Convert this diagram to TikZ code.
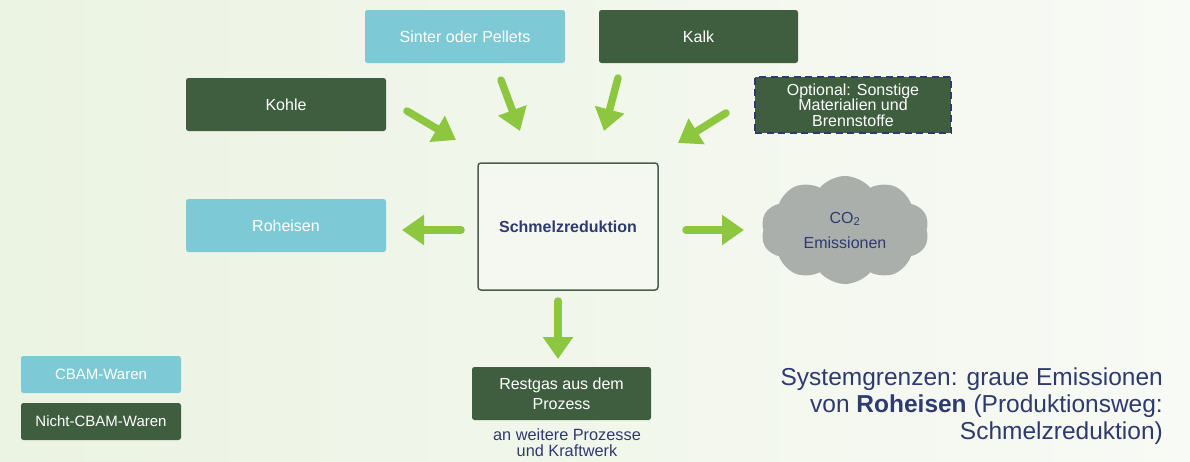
\documentclass[tikz,border=0pt]{standalone}
\usepackage{fontspec}
\setmainfont{Liberation Sans}
\usetikzlibrary{arrows.meta,shapes.symbols}
\definecolor{cb}{HTML}{7DCAD6}
\definecolor{dg}{HTML}{3F5E40}
\definecolor{ag}{HTML}{8DC63F}
\definecolor{tb}{HTML}{2F3A70}
\definecolor{bgl}{HTML}{EBF3E2}
\definecolor{bgr}{HTML}{F8FAF5}
\begin{document}
\begin{tikzpicture}[x=1pt,y=-1pt,
  box/.style={rounded corners=2.5pt, minimum width=200, minimum height=53, text=white,
    font=\fontsize{16}{18}\selectfont, align=center, inner sep=0},
  cbam/.style={box, fill=cb},
  ncbam/.style={box, fill=dg},
  arr/.style={draw=ag, line width=7.5pt, line cap=round, -{Triangle[length=22pt,width=29pt]}}
]
\useasboundingbox (0,0) rectangle (1190,461);
\fill[left color=bgl, right color=bgr] (0,0) rectangle (1190,461);

% nodes
\node[cbam] (sinter) at (465,36.5) {Sinter oder Pellets};
\node[ncbam, minimum width=199] (kalk) at (698.5,36.5) {Kalk};
\node[ncbam] (kohle) at (286,104.5) {Kohle};
\node[ncbam, minimum width=196, minimum height=56, draw=tb, line width=2.3pt,
  dash pattern=on 7pt off 4.5pt, rounded corners=0pt,
  font=\fontsize{16}{15.5}\selectfont] (opt) at (853,105) {Optional: Sonstige\\Materialien und\\Brennstoffe};
\node[draw={rgb,255:red,77;green,93;blue,77}, line width=1.5pt, rounded corners=3pt,
  fill={rgb,255:red,244;green,248;blue,240},
  minimum width=180, minimum height=127, text=tb,
  font=\bfseries\fontsize{16}{18}\selectfont] (schmelz) at (568,226.5) {Schmelzreduktion};
\node[cbam] (roheisen) at (286,225.5) {Roheisen};
\node[cloud, cloud puffs=10, cloud puff arc=100, aspect=1.55, fill={rgb,255:red,170;green,175;blue,172},
  minimum width=168, minimum height=108, inner sep=0, align=center, text=tb,
  font=\fontsize{16}{25}\selectfont] (co2) at (845,230) {CO\textsubscript{2}\\Emissionen};
\node[ncbam, minimum width=179, font=\fontsize{16}{20}\selectfont] (restgas) at (561.5,393.5) {Restgas aus dem\\Prozess};
\node[anchor=north, align=center, text=tb, inner sep=0,
  font=\fontsize{16.3}{16.5}\selectfont] (weiter) at (567,428) {an weitere Prozesse\\und Kraftwerk};

% legend
\node[cbam, minimum width=160, minimum height=37, font=\fontsize{15}{17}\selectfont] (leg1) at (101,374.5) {CBAM-Waren};
\node[ncbam, minimum width=160, minimum height=37, font=\fontsize{15}{17}\selectfont] (leg2) at (101,421.5) {Nicht-CBAM-Waren};

% system boundary text
\node[anchor=north east, align=right, text=tb, inner sep=0,
  font=\fontsize{24.5}{27}\selectfont] (sys) at (1163,368) {Systemgrenzen: graue Emissionen\\von \textbf{Roheisen} (Produktionsweg:\\Schmelzreduktion)};

% arrow coordinates
\coordinate (a1s) at (407,111); \coordinate (a1e) at (456,140);
\coordinate (a2s) at (501,80);  \coordinate (a2e) at (520,131);
\coordinate (a3s) at (618,78);  \coordinate (a3e) at (604,131);
\coordinate (a4s) at (726,113); \coordinate (a4e) at (678,143);
\coordinate (a5s) at (461,230); \coordinate (a5e) at (402,230);
\coordinate (a6s) at (686,230); \coordinate (a6e) at (744,230);
\coordinate (a7s) at (558,301); \coordinate (a7e) at (558,359);

\draw[arr] (a1s) -- (a1e);
\draw[arr] (a2s) -- (a2e);
\draw[arr] (a3s) -- (a3e);
\draw[arr] (a4s) -- (a4e);
\draw[arr] (a5s) -- (a5e);
\draw[arr] (a6s) -- (a6e);
\draw[arr] (a7s) -- (a7e);
\end{tikzpicture}
\end{document}
